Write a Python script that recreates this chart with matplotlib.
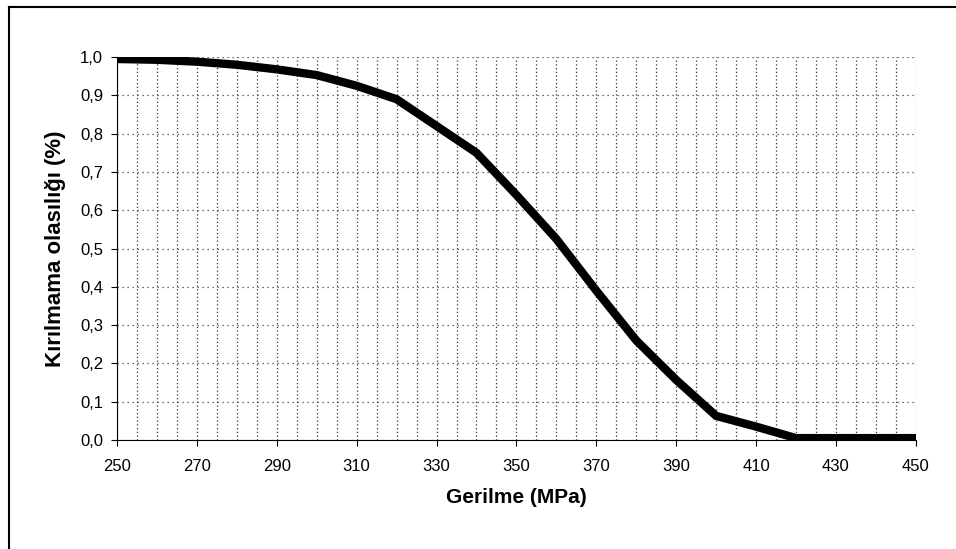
import matplotlib
matplotlib.use("Agg")
import matplotlib.pyplot as plt
from matplotlib.lines import Line2D
from matplotlib.ticker import FixedLocator, MultipleLocator, FuncFormatter

# Data
stress = [250, 260, 270, 280, 290, 300, 310, 320, 330, 340,
          350, 360, 370, 380, 390, 400, 410, 420, 430, 440, 450]
survival = [0.995, 0.993, 0.988, 0.980, 0.968, 0.953, 0.925, 0.890, 0.820, 0.750,
            0.640, 0.525, 0.390, 0.260, 0.157, 0.063, 0.035, 0.005, 0.005, 0.005, 0.005]
x_ticks = list(range(250, 451, 20))

plt.rcParams["font.family"] = ["Liberation Sans", "DejaVu Sans"]

fig = plt.figure(figsize=(9.56, 5.49), dpi=100)
ax = fig.add_axes([0.1224, 0.1985, 0.8356, 0.6975])

ax.plot(stress, survival, color="black", linewidth=6, solid_joinstyle="miter")

ax.set_xlim(250, 450)
ax.set_ylim(0, 1.0)
ax.xaxis.set_major_locator(FixedLocator(x_ticks))
ax.xaxis.set_minor_locator(MultipleLocator(5))
ax.yaxis.set_major_locator(MultipleLocator(0.1))
ax.yaxis.set_major_formatter(FuncFormatter(lambda v, p: f"{v:.1f}".replace(".", ",")))

ax.grid(True, which="both", axis="x", linestyle=(0, (1, 2)), color="0.2", linewidth=0.9)
ax.grid(True, which="major", axis="y", linestyle=(0, (1, 3)), color="0.25", linewidth=0.9)

for s in ["top", "right"]:
    ax.spines[s].set_visible(False)
ax.spines["left"].set_linewidth(0.8)
ax.spines["bottom"].set_linewidth(0.8)

ax.tick_params(axis="both", which="major", labelsize=12, length=4, width=0.8)
ax.tick_params(axis="x", which="minor", length=0)
ax.tick_params(axis="x", pad=10)
ax.tick_params(axis="y", pad=6)

ax.set_xlabel("Gerilme (MPa)", fontsize=15, fontweight="bold", labelpad=10)
ax.set_ylabel("Kırılmama olasılığı (%)", fontsize=16, fontweight="bold", labelpad=10)

# Outer chart border (only the top and left edges survive in the scan)
fig.add_artist(Line2D([0.009, 0.009], [0.0, 0.987], transform=fig.transFigure,
                      color="black", linewidth=1.5))
fig.add_artist(Line2D([0.009, 1.0], [0.987, 0.987], transform=fig.transFigure,
                      color="black", linewidth=1.5))

fig.savefig("out.png", dpi=100)
